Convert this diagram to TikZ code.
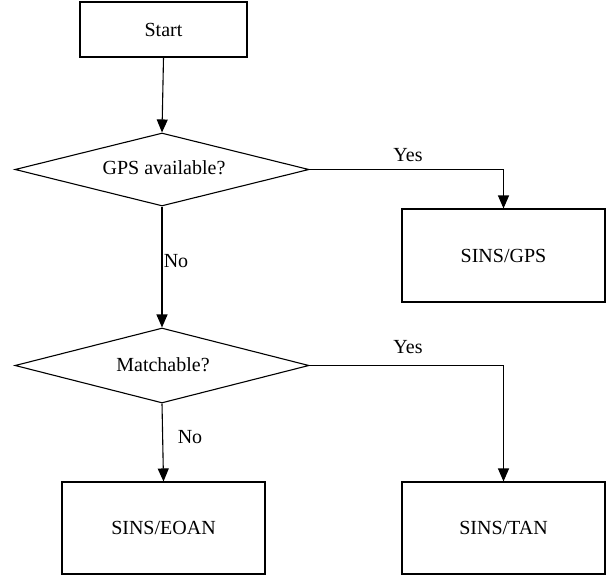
\documentclass[tikz,border=0pt]{standalone}
\usepackage{fontspec}
\setmainfont{Liberation Serif}
\usetikzlibrary{arrows.meta,shapes.geometric}
\begin{document}
\begin{tikzpicture}[x=1pt,y=-1pt,
  box/.style={draw,line width=1.1pt,inner sep=0pt,font=\fontsize{20}{22}\selectfont},
  lbl/.style={font=\fontsize{20}{22}\selectfont,inner sep=0pt},
  arr/.style={line width=1.1pt,-{Triangle[length=13pt,width=11pt]}},
  ln/.style={line width=1.1pt}]
\useasboundingbox (0,0) rectangle (609,577);
\node[box,minimum width=167pt,minimum height=55pt] (start) at (163.5,29.5) {Start};
\node[box,diamond,aspect=4,minimum width=294pt,minimum height=73pt,inner sep=0pt] (d1) at (162,169.5) {};
\node[lbl] at (164,168) {GPS available?};
\node[box,minimum width=203pt,minimum height=93pt] (gps) at (503.5,255.5) {SINS/GPS};
\node[box,diamond,aspect=4,minimum width=294pt,minimum height=75pt,inner sep=0pt] (d2) at (162,365.5) {};
\node[lbl] at (163,365) {Matchable?};
\node[box,minimum width=203pt,minimum height=92pt] (eoan) at (163.5,528) {SINS/EOAN};
\node[box,minimum width=203pt,minimum height=92pt] (tan) at (503.5,528) {SINS/TAN};
\draw[arr] (start.south) -- (d1.north);
\draw[arr] (d1.east) -| (gps.north);
\draw[arr] (d1.south) -- (d2.north);
\draw[arr] (d2.east) -| (tan.north);
\draw[arr] (d2.south) -- (eoan.north);
\node[lbl] (yes1) at (408,155) {Yes};
\node[lbl] (no1) at (176,261) {No};
\node[lbl] (yes2) at (408,347) {Yes};
\node[lbl] (no2) at (190,437) {No};
\end{tikzpicture}
\end{document}
